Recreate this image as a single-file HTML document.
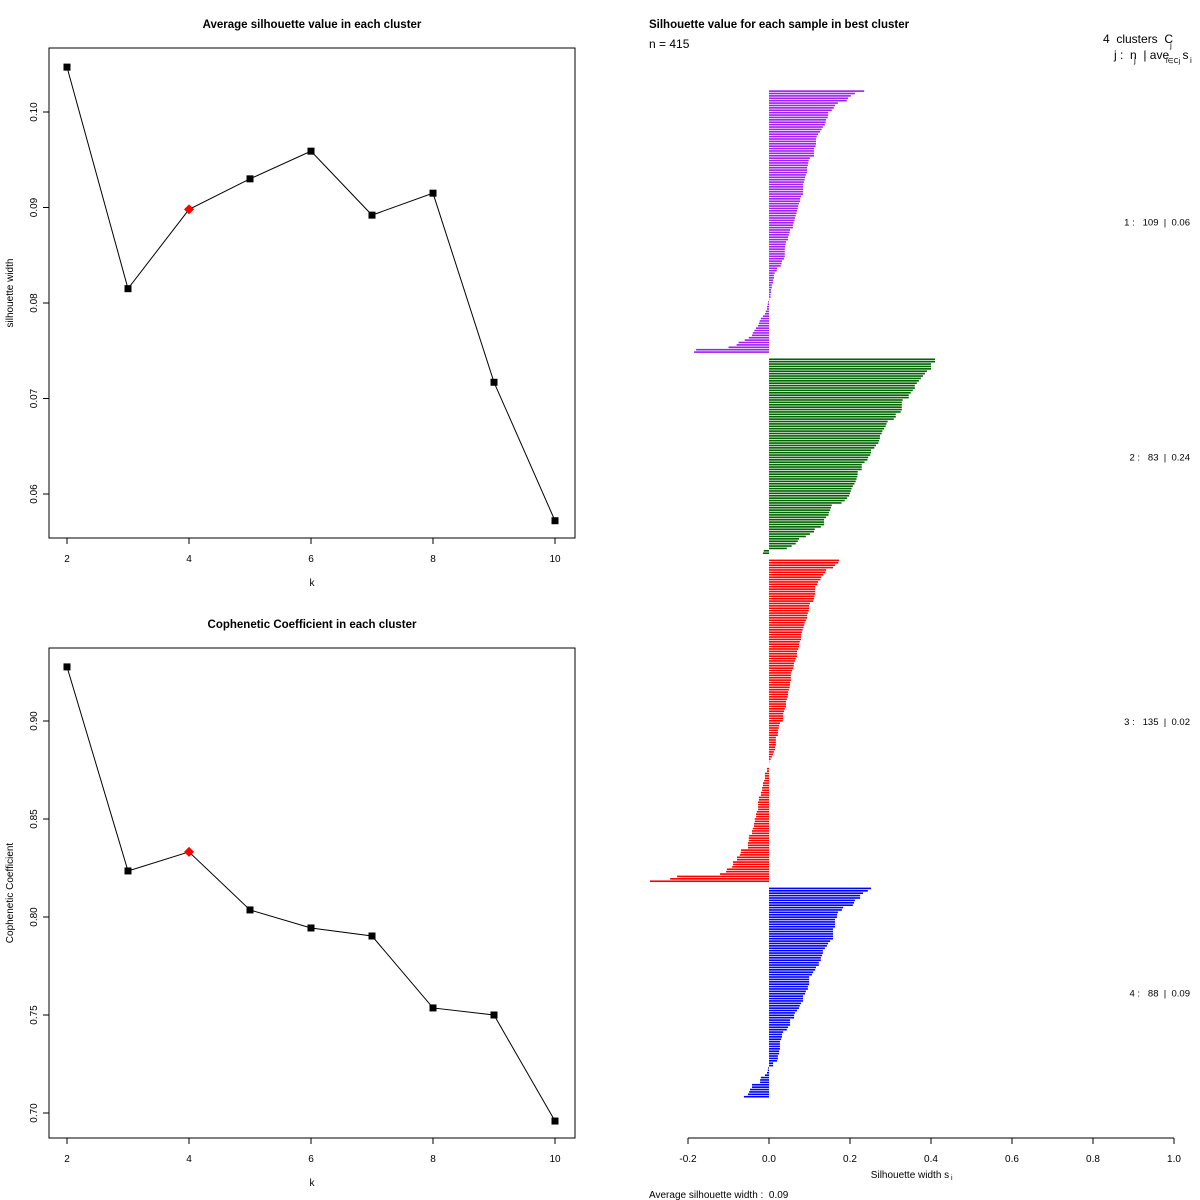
<!DOCTYPE html>
<html><head><meta charset="utf-8"><style>
html,body{margin:0;padding:0;background:#fff;}
svg{display:block;font-family:"Liberation Sans",sans-serif;}
text{white-space:pre;}
</style></head><body>
<svg id="chart" width="1200" height="1200" viewBox="0 0 1200 1200" xmlns="http://www.w3.org/2000/svg">
<g id="p1"></g>
<g id="p2"></g>
<g id="p3"></g>
</svg>
<script>
const ks = [2,3,4,5,6,7,8,9,10];
const silWidth = [0.1047,0.0815,0.0898,0.0930,0.0959,0.0892,0.0915,0.0717,0.0572];
const coph = [0.9276,0.8235,0.8332,0.8036,0.7944,0.7903,0.7536,0.7500,0.6959];
const bestK = 4;
const silTicks = [0.06,0.07,0.08,0.09,0.10];
const cophTicks = [0.70,0.75,0.80,0.85,0.90];
const kTicks = [2,4,6,8,10];

const c1 = [0.235,0.212,0.202,0.195,0.192,0.170,0.163,0.160,0.155,0.146,
0.146,0.145,0.141,0.140,0.138,0.133,0.130,0.126,0.121,0.118,
0.116,0.116,0.116,0.115,0.111,0.111,0.111,0.111,0.101,0.098,
0.097,0.096,0.094,0.094,0.094,0.091,0.089,0.088,0.086,0.084,
0.084,0.084,0.084,0.084,0.079,0.077,0.077,0.074,0.072,0.071,
0.069,0.068,0.066,0.064,0.063,0.061,0.059,0.059,0.052,0.051,
0.049,0.047,0.047,0.042,0.041,0.040,0.039,0.039,0.039,0.039,
0.037,0.032,0.031,0.029,0.020,0.019,0.014,0.012,0.012,0.010,
0.010,0.007,0.007,0.005,0.005,0.004,0.004,0.001,
-0.002,-0.003,-0.005,-0.005,-0.008,-0.010,-0.015,-0.020,-0.023,-0.025,-0.027,
-0.032,-0.036,-0.040,-0.042,-0.050,-0.060,-0.075,-0.080,-0.100,-0.180,-0.185];
const c2 = [0.41,0.41,0.40,0.40,0.40,0.39,0.385,0.38,0.375,0.37,
0.365,0.36,0.36,0.355,0.35,0.345,0.345,0.33,0.328,0.328,
0.328,0.328,0.325,0.313,0.313,0.308,0.293,0.29,0.288,0.284,
0.28,0.278,0.274,0.274,0.272,0.27,0.264,0.26,0.252,0.252,
0.25,0.245,0.243,0.236,0.229,0.229,0.229,0.219,0.219,0.218,
0.216,0.214,0.211,0.207,0.204,0.202,
0.2,0.198,0.193,0.187,0.179,0.155,0.153,0.151,0.148,
0.147,0.141,0.136,0.136,0.136,0.128,0.113,0.111,0.101,0.091,
0.074,0.071,0.066,0.056,0.044,
-0.013,-0.015];
const c3 = [0.173,0.171,0.163,0.158,0.141,0.139,0.134,0.129,0.127,0.121,
0.119,0.114,0.114,0.114,0.114,0.112,0.111,0.109,0.101,0.099,
0.099,0.098,0.096,0.094,0.094,0.091,0.088,0.087,0.085,0.083,
0.081,0.079,0.079,0.079,0.076,0.074,0.074,0.072,0.069,0.069,
0.069,0.066,0.064,0.062,0.061,0.060,0.057,0.054,0.054,0.054,
0.054,0.052,0.052,0.051,0.049,0.047,0.047,0.046,0.044,0.042,
0.042,0.042,0.039,0.037,0.035,0.035,0.035,0.034,0.027,0.025,
0.024,0.022,0.022,0.022,0.017,0.017,0.017,0.017,0.015,0.015,
0.012,0.010,0.007,0.004,0.001,0.0,0.0,
-0.005,-0.005,-0.010,-0.010,-0.010,-0.012,-0.015,-0.015,-0.017,-0.017,
-0.020,-0.020,-0.025,-0.025,-0.027,-0.027,-0.027,-0.027,-0.030,-0.032,
-0.032,-0.035,-0.035,-0.037,-0.037,-0.040,-0.042,-0.042,-0.049,-0.050,
-0.050,-0.052,-0.052,-0.052,-0.069,-0.070,-0.072,-0.079,-0.079,-0.089,
-0.089,-0.091,-0.104,-0.106,-0.121,-0.227,-0.244,-0.294];
const c4 = [0.252,0.244,0.232,0.225,0.225,0.212,0.210,0.207,0.183,0.180,
0.170,0.168,0.168,0.163,0.163,0.163,0.163,0.158,0.158,0.158,
0.158,0.158,0.151,0.146,0.143,0.138,0.133,0.133,0.131,0.128,
0.128,0.123,0.123,0.116,0.114,0.109,0.106,0.099,0.099,0.099,
0.099,0.096,0.096,0.091,0.089,0.084,0.084,0.084,0.079,0.076,
0.074,0.069,0.064,0.062,0.062,0.052,0.052,0.052,0.047,0.044,
0.035,0.032,0.032,0.030,0.027,0.027,0.027,0.027,0.025,0.025,
0.022,0.022,0.020,0.010,0.010,
-0.002,-0.003,-0.005,-0.010,-0.020,-0.022,-0.022,-0.042,-0.042,-0.047,-0.049,-0.052,-0.062];
const clusterColors = ['#a020f0','#006400','#ff0000','#0000ff'];
const clusterLabels = ['1 :   109  |  0.06','2 :   83  |  0.24','3 :   135  |  0.02','4 :   88  |  0.09'];
const silXTicks = ['-0.2','0.0','0.2','0.4','0.6','0.8','1.0'];

const NS='http://www.w3.org/2000/svg';
function mk(parent, tag, attrs, text){
  const e=document.createElementNS(NS,tag);
  for(const k in attrs) e.setAttribute(k,attrs[k]);
  if(text!==undefined) e.textContent=text;
  parent.appendChild(e); return e;
}

function linePanel(g, vals, ticks, tickFmt, yTitle, title, box, v0, py0, v1, py1){
  const xS = k => 67 + (k-2)*61;
  const yS = v => py0 + (v-v0)*(py1-py0)/(v1-v0);
  let e;
  e=mk(g,'rect',{x:box.x,y:box.y,width:box.w,height:box.h,fill:'none',stroke:'#000','stroke-width':1});
  
  
  e=mk(g,'text',{x:312,y:box.y-20,'text-anchor':'middle','font-size':11.5,'font-weight':'bold'},title);
  
  
  kTicks.forEach(k=>{
    mk(g,'line',{x1:xS(k),x2:xS(k),y1:box.y+box.h,y2:box.y+box.h+6,stroke:'#000'});
    e=mk(g,'text',{x:xS(k),y:box.y+box.h+24,'text-anchor':'middle','font-size':10},String(k));
    
    
  });
  e=mk(g,'text',{x:312,y:box.y+box.h+48,'text-anchor':'middle','font-size':10},'k');
  
  
  ticks.forEach(t=>{
    const y=yS(t);
    mk(g,'line',{x1:box.x,x2:box.x-6,y1:y,y2:y,stroke:'#000'});
    e=mk(g,'text',{x:0,y:0,'text-anchor':'middle','font-size':10,transform:`translate(37,${y}) rotate(-90)`},tickFmt(t));
    
    
  });
  e=mk(g,'text',{x:0,y:0,'text-anchor':'middle','font-size':10,transform:`translate(13,${box.y+box.h/2}) rotate(-90)`},yTitle);
  
  
  const pts=ks.map((k,i)=>xS(k)+','+yS(vals[i])).join(' ');
  e=mk(g,'polyline',{points:pts,fill:'none',stroke:'#000','stroke-width':1});
  
  
  ks.forEach((k,i)=>{
    const x=xS(k), y=yS(vals[i]);
    if(k===bestK){
      e=mk(g,'polygon',{points:`${x},${y-5} ${x+5},${y} ${x},${y+5} ${x-5},${y}`,fill:'#ff0000'});
      
    } else {
      e=mk(g,'rect',{x:x-3.5,y:y-3.5,width:7,height:7,fill:'#000'});
      
    }
    
  });
}

linePanel(document.getElementById('p1'), silWidth, silTicks, t=>t.toFixed(2), 'silhouette width',
  'Average silhouette value in each cluster', {x:49,y:48,w:526,h:490}, 0.10,112,0.06,494);
linePanel(document.getElementById('p2'), coph, cophTicks, t=>t.toFixed(2), 'Cophenetic Coefficient',
  'Cophenetic Coefficient in each cluster', {x:49,y:648,w:526,h:490}, 0.90,721,0.70,1113);

(function(){
  const g=document.getElementById('p3');
  const xS = v => 769 + v*405;
  const clusters=[c1,c2,c3,c4];
  const total=clusters.reduce((a,c)=>a+c.length,0);
  const gap=2;
  const top=90, bottom=1098;
  const rh=(bottom-top)/(total+gap*(clusters.length-1));
  let row=0, e;
  clusters.forEach((c,ci)=>{
    const startRow=row;
    c.forEach(v=>{
      const y=top+row*rh;
      const x0=Math.min(xS(0),xS(v)), w=Math.abs(xS(v)-xS(0));
      e=mk(g,'rect',{x:x0,y:y+0.3,width:w,height:rh*0.68,fill:clusterColors[ci]});
      
      
      row++;
    });
    const midY=top+(startRow+row)/2*rh;
    e=mk(g,'text',{x:1190,y:midY+4,'text-anchor':'end','font-size':9.5},clusterLabels[ci]);
    
    
    row+=gap;
  });
  mk(g,'line',{x1:xS(-0.2),x2:xS(1.0),y1:1138,y2:1138,stroke:'#000'});
  silXTicks.forEach(t=>{
    const x=xS(parseFloat(t));
    mk(g,'line',{x1:x,x2:x,y1:1138,y2:1144,stroke:'#000'});
    e=mk(g,'text',{x:x,y:1162,'text-anchor':'middle','font-size':10},t);
    
    
  });
  e=mk(g,'text',{x:910,y:1178,'text-anchor':'middle','font-size':10},'Silhouette width s');
  
  
  mk(g,'text',{x:951,y:1180,'font-size':7},'i');
  e=mk(g,'text',{x:649,y:1198,'font-size':10},'Average silhouette width :  0.09');
  
  
  e=mk(g,'text',{x:649,y:28,'font-size':11.5,'font-weight':'bold'},'Silhouette value for each sample in best cluster');
  
  
  e=mk(g,'text',{x:649,y:48,'font-size':12},'n = 415');
  
  
  e=mk(g,'text',{x:1103,y:43,'font-size':12},'4  clusters  C');
  
  
  mk(g,'text',{x:1170,y:48,'font-size':8},'j');
  e=mk(g,'text',{x:1114,y:59,'font-size':12},'j :  n  | ave    s');
  
  
  mk(g,'text',{x:1134,y:63,'font-size':8},'j');
  mk(g,'text',{x:1166,y:63,'font-size':7},'i∈Cj');
  mk(g,'text',{x:1190,y:63,'font-size':8},'i');
})();
</script>
</body></html>
